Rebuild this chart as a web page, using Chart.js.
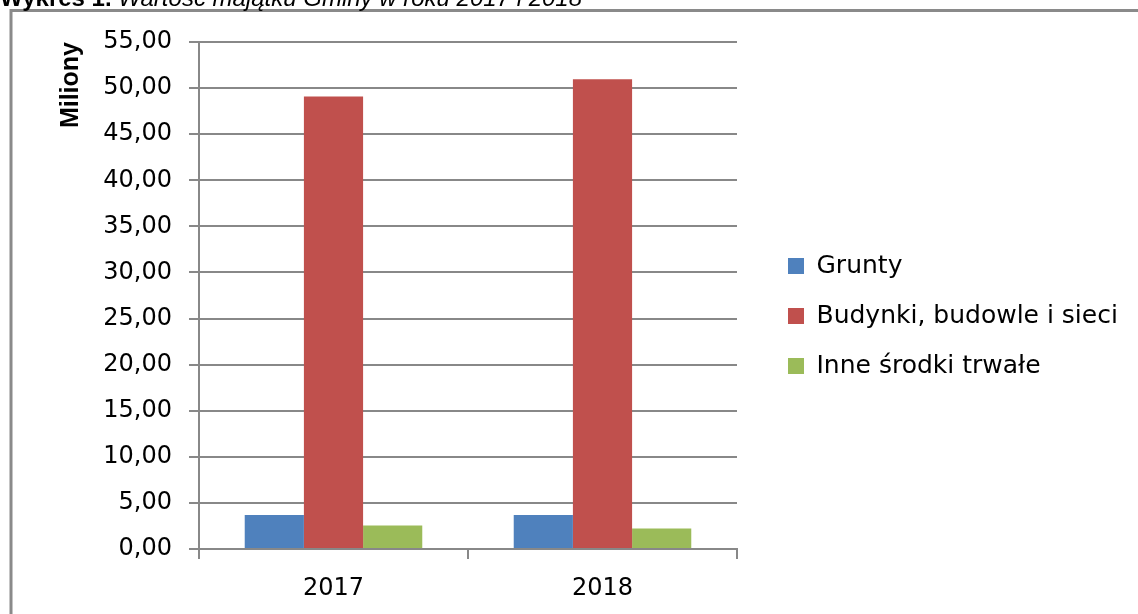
<!DOCTYPE html>
<html>
<head>
<meta charset="utf-8">
<script src="https://cdn.jsdelivr.net/npm/chart.js@4.4.1/dist/chart.umd.min.js"></script>
<style>
  html, body { margin: 0; padding: 0; background: #ffffff; }
  #wrap { width: 1138px; height: 614px; position: relative; }
</style>
</head>
<body>
<div id="wrap"><canvas id="c" width="1138" height="614"></canvas></div>
<script>
// ---- data ----
const categories = ['2017', '2018'];
const seriesNames = ['Grunty', 'Budynki, budowle i sieci', 'Inne środki trwałe'];
const grunty = [3.68, 3.68];
const budynki = [49.1, 50.95];
const inne = [2.56, 2.22];
const yTickValues = [0, 5, 10, 15, 20, 25, 30, 35, 40, 45, 50, 55];
const titleBold = 'Wykres 1. ';
const titleItalic = 'Wartość majątku Gminy w roku 2017 i 2018';
const yAxisTitle = 'Miliony';

const colors = ['#4F81BD', '#C0504D', '#9BBB59'];
const gridColor = '#888888';

const framePlugin = {
  id: 'frameAndTitle',
  beforeDraw(chart) {
    const ctx = chart.ctx;
    ctx.save();
    ctx.fillStyle = '#ffffff';
    ctx.fillRect(0, 0, chart.width, chart.height);
    ctx.restore();
  },
  afterDraw(chart) {
    const ctx = chart.ctx;
    ctx.save();
    ctx.strokeStyle = '#8a8a8a';
    ctx.lineWidth = 3;
    ctx.beginPath();
    ctx.moveTo(11, chart.height);
    ctx.lineTo(11, 10.5);
    ctx.lineTo(chart.width, 10.5);
    ctx.stroke();
    ctx.fillStyle = '#000000';
    ctx.textBaseline = 'alphabetic';
    ctx.textAlign = 'left';
    ctx.font = 'bold 24px "Liberation Sans", Arial, sans-serif';
    ctx.fillText(titleBold, 0, 6);
    const w = ctx.measureText(titleBold).width;
    ctx.font = 'italic 24px "Liberation Sans", Arial, sans-serif';
    ctx.fillText(titleItalic, w, 6);
    ctx.restore();
  }
};

const LEGEND_SHIFT_X = 26;
const LEGEND_SHIFT_Y = -12;
const legendPlace = {
  id: 'legendPlace',
  beforeLayout(chart) {
    const lg = chart.legend;
    if (lg && !lg.__patched) {
      const f = lg.fit;
      lg.fit = function () {
        f.call(this);
        this.width = 1138 - 737;
      };
      lg.__patched = true;
    }
  },
  afterLayout(chart) {
    const lg = chart.legend;
    if (lg) {
      lg.left += LEGEND_SHIFT_X;
      lg.right += LEGEND_SHIFT_X;
      lg.top += LEGEND_SHIFT_Y;
      lg.bottom += LEGEND_SHIFT_Y;
    }
  }
};

const datasets = [grunty, budynki, inne].map((d, i) => ({
  label: seriesNames[i],
  data: d,
  backgroundColor: colors[i],
  borderWidth: 0,
  categoryPercentage: 0.66,
  barPercentage: 1.0
}));

new Chart(document.getElementById('c'), {
  type: 'bar',
  data: { labels: categories, datasets },
  plugins: [framePlugin, legendPlace],
  options: {
    responsive: false,
    animation: false,
    events: [],
    layout: { padding: { top: 42, left: 12, right: 0, bottom: 0 } },
    plugins: {
      tooltip: { enabled: false },
      legend: {
        position: 'right',
        align: 'center',
        labels: {
          boxWidth: 16,
          boxHeight: 16,
          padding: 25,
          color: '#000000',
          font: { family: '"DejaVu Sans", Verdana, sans-serif', size: 25 }
        }
      }
    },
    scales: {
      x: {
        afterFit(scale) { scale.height = 614 - 549; },
        grid: {
          offset: true,
          drawOnChartArea: false,
          drawTicks: true,
          tickLength: 10,
          color: gridColor,
          lineWidth: 2
        },
        border: { display: true, color: gridColor, width: 2 },
        ticks: {
          color: '#000000',
          padding: 15,
          font: { family: '"DejaVu Sans", Verdana, sans-serif', size: 24 }
        }
      },
      y: {
        min: 0,
        max: 55,
        afterFit(scale) { scale.width = 199 - 12; },
        afterBuildTicks(scale) { scale.ticks = yTickValues.map(v => ({ value: v })); },
        grid: {
          color: gridColor,
          lineWidth: 2,
          drawTicks: true,
          tickLength: 10
        },
        border: { display: true, color: gridColor, width: 2 },
        ticks: {
          color: '#000000',
          padding: 17,
          font: { family: '"DejaVu Sans", Verdana, sans-serif', size: 24 },
          callback: (v) => Number(v).toFixed(2).replace('.', ',')
        },
        title: {
          display: true,
          text: yAxisTitle,
          align: 'end',
          color: '#000000',
          padding: { top: 44, bottom: 0 },
          font: { family: '"Liberation Sans", Arial, sans-serif', size: 25, weight: 'bold' }
        }
      }
    }
  }
});
</script>
</body>
</html>
